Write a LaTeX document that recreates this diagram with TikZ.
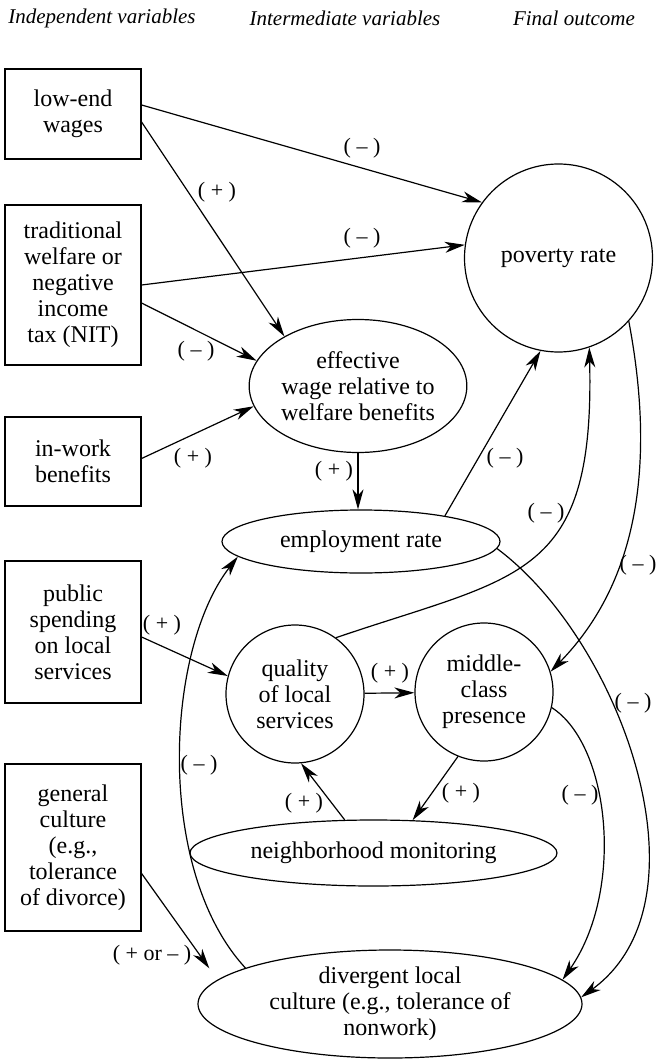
\documentclass[tikz,border=0pt]{standalone}
\usepackage{fontspec}
\setmainfont{Liberation Serif}
\usepackage{tikz}
\usetikzlibrary{shapes.geometric,arrows.meta}

\begin{document}
\begin{tikzpicture}[x=0.5pt,y=-0.5pt]
    % Define styles
    \tikzset{
        factor/.style={rectangle, draw, semithick, align=center, inner sep=0pt, minimum width=68pt, font=\fontsize{12}{13}\selectfont},
        effect/.style={ellipse, draw, semithick, align=center, inner sep=0pt, font=\fontsize{12}{13}\selectfont},
        heading/.style={font=\fontsize{10.5}{12}\selectfont\itshape},
        sign/.style={font=\fontsize{11}{12}\selectfont, inner sep=0pt},
        arrow/.style={-{Stealth[length=10pt,width=5.5pt,inset=3pt]}, semithick}
    }
    \useasboundingbox (0,0) rectangle (659,1059);

    % Headings
    \node[heading] (head_indep) at (102,18) {Independent variables};
    \node[heading] (head_inter) at (345,18) {Intermediate variables};
    \node[heading] (head_final) at (574,18) {Final outcome};

    % Nodes
    \node[factor, minimum height=45pt] (low_wages) at (73,114) {low-end\\wages};
    \node[factor, minimum height=80pt] (welfare_nit) at (73,285) {traditional\\welfare or\\negative\\income\\tax (NIT)};
    \node[factor, minimum height=44.5pt] (in_work) at (73,461.5) {in-work\\benefits};
    \node[factor, minimum height=71pt] (public_spending) at (73,632) {public\\spending\\on local\\services};
    \node[factor, minimum height=83.5pt] (general_culture) at (73,847.5) {general\\culture\\(e.g.,\\tolerance\\of divorce)};

    \node[effect, minimum width=94pt, minimum height=94pt] (poverty_rate) at (558.5,258) {poverty rate};
    \node[effect, minimum width=107pt, minimum height=66.5pt] (effective_wage) at (358,386) {effective\\wage relative to\\welfare benefits};
    \node[effect, minimum width=139pt, minimum height=31.5pt] (employment_rate) at (361,541.5) {employment rate};
    \node[effect, minimum width=69pt, minimum height=69pt] (local_services) at (295,694) {quality\\of local\\services};
    \node[effect, minimum width=69pt, minimum height=69pt] (middle_class) at (484,692) {middle-\\class\\presence};
    \node[effect, minimum width=183.5pt, minimum height=33pt] (monitoring) at (373.5,853) {neighborhood monitoring};
    \node[effect, minimum width=192pt, minimum height=54pt] (local_culture) at (390,1004) {divergent local\\culture (e.g., tolerance of\\nonwork)};

    % Arrows
    \draw[arrow] ([yshift=4.5pt]low_wages.east) -- (poverty_rate.144) node[sign] at (362,148) {( – )};
    \draw[arrow] ([yshift=-4pt]low_wages.east) -- (effective_wage.146) node[sign] at (217,192) {( + )};
    \draw[arrow] (welfare_nit.east) -- (poverty_rate.172) node[sign] at (362,238) {( – )};
    \draw[arrow] ([yshift=-9pt]welfare_nit.east) -- (effective_wage.166) node[sign] at (196,351) {( – )};
    \draw[arrow] ([yshift=1.5pt]in_work.east) -- (effective_wage.191) node[sign] at (193,458) {( + )};
    \draw[arrow] (effective_wage.south) -- (effective_wage.south |- employment_rate.north) node[sign] at (334,471) {( + )};
    \draw[arrow] (employment_rate.17) -- (poverty_rate.259) node[sign] at (505,458) {( – )};
    \draw[arrow] (local_services.54) .. controls (520,575) and (595,580) .. (poverty_rate.289) node[sign] at (546,513) {( – )};
    \draw[arrow] (poverty_rate.318) .. controls (655,460) and (640,580) .. (middle_class.17) node[sign] at (638,565) {( – )};
    \draw[arrow] (employment_rate.-3) .. controls (620,640) and (715,900) .. (local_culture.2) node[sign] at (633,703) {( – )};
    \draw[arrow] ([yshift=-2.5pt]public_spending.east) -- (local_services.165) node[sign] at (162,625) {( + )};
    \draw[arrow] (local_services) -- (middle_class) node[sign] at (390,673) {( + )};
    \draw[arrow] (monitoring.131) -- (local_services.275) node[sign] at (304,803) {( + )};
    \draw[arrow] (middle_class.248) -- (monitoring.40) node[sign] at (461,793) {( + )};
    \draw[arrow] (middle_class.-13) .. controls (610,745) and (625,890) .. (local_culture.8) node[sign] at (580,795) {( – )};
    \draw[arrow] (local_culture.166) .. controls (155,870) and (165,650) .. (employment_rate.187) node[sign] at (199,765) {( – )};
    \draw[arrow, shorten >=7pt] ([yshift=-13pt]general_culture.east) -- (local_culture.172) node[sign] at (152,955) {( + or – )};
\end{tikzpicture}
\end{document}
